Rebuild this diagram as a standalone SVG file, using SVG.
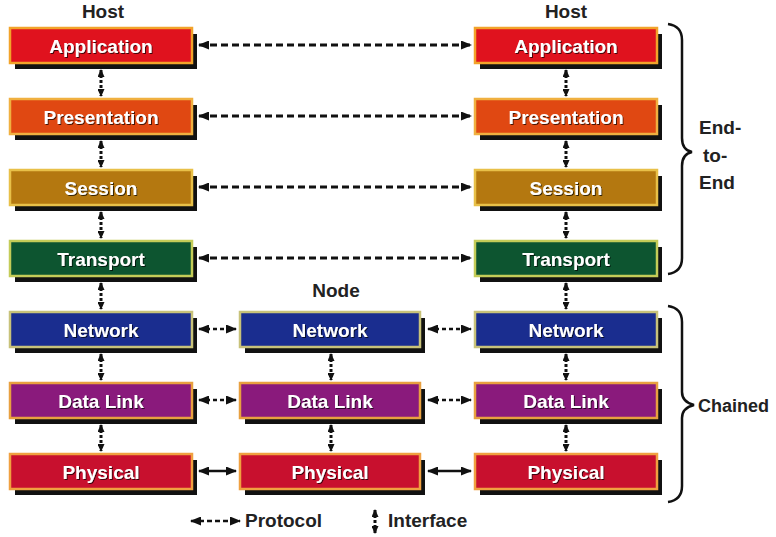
<svg xmlns="http://www.w3.org/2000/svg" width="776" height="537" viewBox="0 0 776 537">
<style>
.sh{fill:#111}
.bx{stroke-width:2.5}
.lbl{font-family:"Liberation Sans",Arial,sans-serif;font-weight:bold;font-size:19px;fill:#fff;text-anchor:middle;filter:url(#ts)}
.cap{font-family:"Liberation Sans",Arial,sans-serif;font-weight:bold;font-size:19px;fill:#222}
.mid{text-anchor:middle}
.pl{stroke:#111;stroke-width:3;fill:none;stroke-dasharray:7 4;marker-start:url(#ah);marker-end:url(#ah)}
.ps{stroke:#111;stroke-width:2.5;fill:none;stroke-dasharray:4 3;marker-start:url(#ah);marker-end:url(#ah)}
.pss{stroke:#111;stroke-width:2.5;fill:none;marker-start:url(#ah);marker-end:url(#ah)}
.iv{stroke:#111;stroke-width:3;fill:none;stroke-dasharray:3 2;marker-start:url(#av);marker-end:url(#av)}
.br{stroke:#111;stroke-width:2.5;fill:none}
.app{fill:#e0121e;stroke:#f2a32a}
.pre{fill:#e04812;stroke:#f0b040}
.ses{fill:#b47810;stroke:#e8c048}
.tra{fill:#0d5530;stroke:#c4cc58}
.net{fill:#1a2d8f;stroke:#c8c27a}
.dl{fill:#8a1a7c;stroke:#e8a040}
.phy{fill:#c8102e;stroke:#f0a040}
</style>
<defs>
<marker id="ah" markerUnits="userSpaceOnUse" markerWidth="11" markerHeight="9" refX="10" refY="4.5" orient="auto-start-reverse"><path d="M0,0 L11,4.5 L0,9 z" fill="#111"/></marker>
<marker id="av" markerUnits="userSpaceOnUse" markerWidth="8" markerHeight="7" refX="7" refY="3.5" orient="auto-start-reverse"><path d="M0,0 L8,3.5 L0,7 z" fill="#111"/></marker>
<filter id="ts" x="-10%" y="-30%" width="120%" height="160%"><feDropShadow dx="1" dy="1" stdDeviation="0.6" flood-color="#000" flood-opacity="0.7"/></filter>
</defs>
<rect width="776" height="537" fill="#fff"/>

<text class="cap mid" x="103" y="18">Host</text>
<text class="cap mid" x="566" y="18">Host</text>
<text class="cap mid" x="336" y="297">Node</text>

<g id="connectors">
<line class="pl" x1="199" y1="45" x2="471" y2="45"/>
<line class="pl" x1="199" y1="116" x2="471" y2="116"/>
<line class="pl" x1="199" y1="187" x2="471" y2="187"/>
<line class="pl" x1="199" y1="258" x2="471" y2="258"/>
<line class="ps" x1="199" y1="329" x2="236" y2="329"/>
<line class="ps" x1="428" y1="329" x2="471" y2="329"/>
<line class="ps" x1="199" y1="400" x2="236" y2="400"/>
<line class="ps" x1="428" y1="400" x2="471" y2="400"/>
<line class="pss" x1="199" y1="471" x2="236" y2="471"/>
<line class="pss" x1="428" y1="471" x2="471" y2="471"/>
<line class="iv" x1="101" y1="70" x2="101" y2="96"/>
<line class="iv" x1="101" y1="141" x2="101" y2="167"/>
<line class="iv" x1="101" y1="212" x2="101" y2="238"/>
<line class="iv" x1="101" y1="283" x2="101" y2="309"/>
<line class="iv" x1="101" y1="354" x2="101" y2="380"/>
<line class="iv" x1="101" y1="425" x2="101" y2="451"/>
<line class="iv" x1="566" y1="70" x2="566" y2="96"/>
<line class="iv" x1="566" y1="141" x2="566" y2="167"/>
<line class="iv" x1="566" y1="212" x2="566" y2="238"/>
<line class="iv" x1="566" y1="283" x2="566" y2="309"/>
<line class="iv" x1="566" y1="354" x2="566" y2="380"/>
<line class="iv" x1="566" y1="425" x2="566" y2="451"/>
<line class="iv" x1="331" y1="354" x2="331" y2="380"/>
<line class="iv" x1="331" y1="425" x2="331" y2="451"/>
</g>

<g id="h1-application"><rect class="sh" x="15" y="34" width="182" height="35"/><rect class="bx app" x="10" y="28" width="182" height="35"/><text class="lbl" x="101" y="53">Application</text></g>
<g id="h1-presentation"><rect class="sh" x="15" y="105" width="182" height="35"/><rect class="bx pre" x="10" y="99" width="182" height="35"/><text class="lbl" x="101" y="124">Presentation</text></g>
<g id="h1-session"><rect class="sh" x="15" y="176" width="182" height="35"/><rect class="bx ses" x="10" y="170" width="182" height="35"/><text class="lbl" x="101" y="195">Session</text></g>
<g id="h1-transport"><rect class="sh" x="15" y="247" width="182" height="35"/><rect class="bx tra" x="10" y="241" width="182" height="35"/><text class="lbl" x="101" y="266">Transport</text></g>
<g id="h1-network"><rect class="sh" x="15" y="318" width="182" height="35"/><rect class="bx net" x="10" y="312" width="182" height="35"/><text class="lbl" x="101" y="337">Network</text></g>
<g id="h1-datalink"><rect class="sh" x="15" y="389" width="182" height="35"/><rect class="bx dl" x="10" y="383" width="182" height="35"/><text class="lbl" x="101" y="408">Data Link</text></g>
<g id="h1-physical"><rect class="sh" x="15" y="460" width="182" height="35"/><rect class="bx phy" x="10" y="454" width="182" height="35"/><text class="lbl" x="101" y="479">Physical</text></g>

<g id="node-network"><rect class="sh" x="245" y="318" width="180" height="35"/><rect class="bx net" x="240" y="312" width="180" height="35"/><text class="lbl" x="330" y="337">Network</text></g>
<g id="node-datalink"><rect class="sh" x="245" y="389" width="180" height="35"/><rect class="bx dl" x="240" y="383" width="180" height="35"/><text class="lbl" x="330" y="408">Data Link</text></g>
<g id="node-physical"><rect class="sh" x="245" y="460" width="180" height="35"/><rect class="bx phy" x="240" y="454" width="180" height="35"/><text class="lbl" x="330" y="479">Physical</text></g>

<g id="h2-application"><rect class="sh" x="480" y="34" width="182" height="35"/><rect class="bx app" x="475" y="28" width="182" height="35"/><text class="lbl" x="566" y="53">Application</text></g>
<g id="h2-presentation"><rect class="sh" x="480" y="105" width="182" height="35"/><rect class="bx pre" x="475" y="99" width="182" height="35"/><text class="lbl" x="566" y="124">Presentation</text></g>
<g id="h2-session"><rect class="sh" x="480" y="176" width="182" height="35"/><rect class="bx ses" x="475" y="170" width="182" height="35"/><text class="lbl" x="566" y="195">Session</text></g>
<g id="h2-transport"><rect class="sh" x="480" y="247" width="182" height="35"/><rect class="bx tra" x="475" y="241" width="182" height="35"/><text class="lbl" x="566" y="266">Transport</text></g>
<g id="h2-network"><rect class="sh" x="480" y="318" width="182" height="35"/><rect class="bx net" x="475" y="312" width="182" height="35"/><text class="lbl" x="566" y="337">Network</text></g>
<g id="h2-datalink"><rect class="sh" x="480" y="389" width="182" height="35"/><rect class="bx dl" x="475" y="383" width="182" height="35"/><text class="lbl" x="566" y="408">Data Link</text></g>
<g id="h2-physical"><rect class="sh" x="480" y="460" width="182" height="35"/><rect class="bx phy" x="475" y="454" width="182" height="35"/><text class="lbl" x="566" y="479">Physical</text></g>

<g id="brace-end-to-end">
<path class="br" d="M668,24 Q682,26 682,40 L682,138 Q682,150 692,152 Q682,154 682,166 L682,258 Q682,272 668,274"/>
<text class="cap" x="699" y="134">End-</text>
<text class="cap" x="703" y="162">to-</text>
<text class="cap" x="699" y="189">End</text>
</g>
<g id="brace-chained">
<path class="br" d="M668,306 Q682,308 682,322 L682,392 Q682,402 694,405 Q682,408 682,418 L682,486 Q682,500 668,502"/>
<text class="cap" x="698" y="412" style="font-size:18px">Chained</text>
</g>

<g id="legend">
<line class="pss" x1="191" y1="521" x2="240" y2="521" style="stroke-dasharray:5 3"/>
<text class="cap" x="245" y="527">Protocol</text>
<line class="iv" x1="375" y1="510" x2="375" y2="533"/>
<text class="cap" x="388" y="527">Interface</text>
</g>
</svg>
